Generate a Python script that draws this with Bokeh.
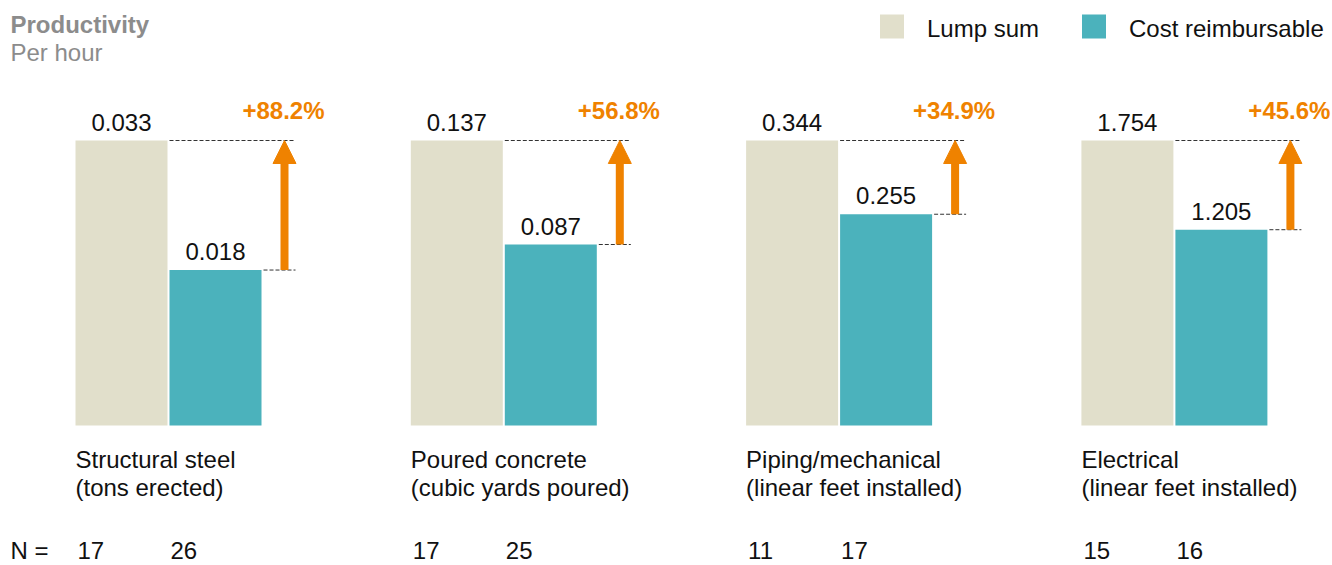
from bokeh.plotting import figure
from bokeh.models import Range1d, Arrow, NormalHead
from bokeh.core.properties import value
from bokeh.embed import file_html
from bokeh.resources import INLINE

# ---- data ----
cat_names = ["Structural steel", "Poured concrete", "Piping/mechanical", "Electrical"]
cat_units = ["(tons erected)", "(cubic yards poured)", "(linear feet installed)", "(linear feet installed)"]
lump_sum = [0.033, 0.137, 0.344, 1.754]
cost_reimb = [0.018, 0.087, 0.255, 1.205]
lump_labels = ["0.033", "0.137", "0.344", "1.754"]
cost_labels = ["0.018", "0.087", "0.255", "1.205"]
pct_labels = ["+88.2%", "+56.8%", "+34.9%", "+45.6%"]
n_lump = ["17", "17", "11", "15"]
n_cost = ["26", "25", "17", "16"]
series_names = ["Lump sum", "Cost reimbursable"]

# ---- style / layout ----
FONT = "Liberation Sans"
FS = "24px"
C_LUMP = "#E1DFCB"
C_COST = "#4BB2BC"
C_ORANGE = "#EF8200"
C_GRAY = "#8C8C8C"
C_TEXT = "#111111"

W, H = 1332, 565
BASE_PX = 425      # bar baseline, px from top of figure
UNIT_PX = 285      # px height of a normalized value of 1
PANEL0, STEP = 75, 335.3
BW = 92
HALF = 8.5         # baseline -> text middle


def fy(px):
    return (BASE_PX - px) / UNIT_PX


p = figure(width=W, height=H, output_backend="svg", toolbar_location=None,
           x_range=Range1d(0, W), y_range=Range1d(fy(H), fy(0)),
           min_border=0, outline_line_color=None)
p.axis.visible = False
p.grid.visible = False
p.background_fill_color = "white"
p.border_fill_color = "white"

lefts = [PANEL0 + i * STEP for i in range(len(cat_names))]
ratio = [c / l for c, l in zip(cost_reimb, lump_sum)]
ones = [l / l for l in lump_sum]

lx = [L + BW / 2 for L in lefts]
cx = [L + BW + 2 + BW / 2 for L in lefts]

p.vbar(x=lx, top=ones, bottom=0, width=BW, fill_color=C_LUMP, line_color=None)
p.vbar(x=cx, top=ratio, bottom=0, width=BW, fill_color=C_COST, line_color=None)

# dashed reference lines
p.segment(x0=[L + BW + 2 for L in lefts], x1=[L + 220 for L in lefts], y0=ones, y1=ones,
          line_color="#333333", line_width=1, line_dash="4 2")
p.segment(x0=[L + 2 * BW + 4 for L in lefts], x1=[L + 220 for L in lefts], y0=ratio, y1=ratio,
          line_color="#333333", line_width=1, line_dash="4 2")

# arrows
for L, r in zip(lefts, ratio):
    p.add_layout(Arrow(x_start=L + 209, y_start=r, x_end=L + 209, y_end=1.0,
                       line_color=C_ORANGE, line_width=8,
                       end=NormalHead(size=23, fill_color=C_ORANGE, line_color=C_ORANGE, line_width=1)))

TXT = dict(text_baseline="middle", text_font=value(FONT), text_font_size=FS)

# value labels
p.text(x=lx, y=[o + (10 + HALF) / UNIT_PX for o in ones], text=lump_labels, text_align="center",
       text_color=C_TEXT, **TXT)
p.text(x=cx, y=[r + (10 + HALF) / UNIT_PX for r in ratio], text=cost_labels, text_align="center",
       text_color=C_TEXT, **TXT)
p.text(x=[L + 208 for L in lefts], y=[o + (22 + HALF) / UNIT_PX for o in ones], text=pct_labels,
       text_align="center", text_font_style="bold", text_color=C_ORANGE, **TXT)

# category labels
p.text(x=lefts, y=[fy(467 - HALF)] * 4, text=cat_names, text_align="left", text_color=C_TEXT, **TXT)
p.text(x=lefts, y=[fy(495 - HALF)] * 4, text=cat_units, text_align="left", text_color=C_TEXT, **TXT)

# N row
N_MID = 550
p.text(x=[10], y=[fy(N_MID)], text=["N ="], text_align="left", text_color=C_TEXT, **TXT)
p.text(x=[L + 2 for L in lefts], y=[fy(N_MID)] * 4, text=n_lump, text_align="left",
       text_color=C_TEXT, **TXT)
p.text(x=[L + BW + 3 for L in lefts], y=[fy(N_MID)] * 4, text=n_cost, text_align="left",
       text_color=C_TEXT, **TXT)

# title
p.text(x=[10], y=[fy(32 - HALF)], text=["Productivity"], text_align="left",
       text_font_style="bold", text_color=C_GRAY, **TXT)
p.text(x=[10], y=[fy(60 - HALF)], text=["Per hour"], text_align="left", text_color=C_GRAY, **TXT)

# legend
p.scatter(x=[891.5, 1093.5], y=[fy(26)] * 2, marker="square", size=24,
          fill_color=[C_LUMP, C_COST], line_color=None)
p.text(x=[926.5, 1128.5], y=[fy(36.5 - HALF)] * 2, text=series_names, text_align="left",
       text_color=C_TEXT, **TXT)

open("out.html", "w").write(file_html(p, INLINE))
